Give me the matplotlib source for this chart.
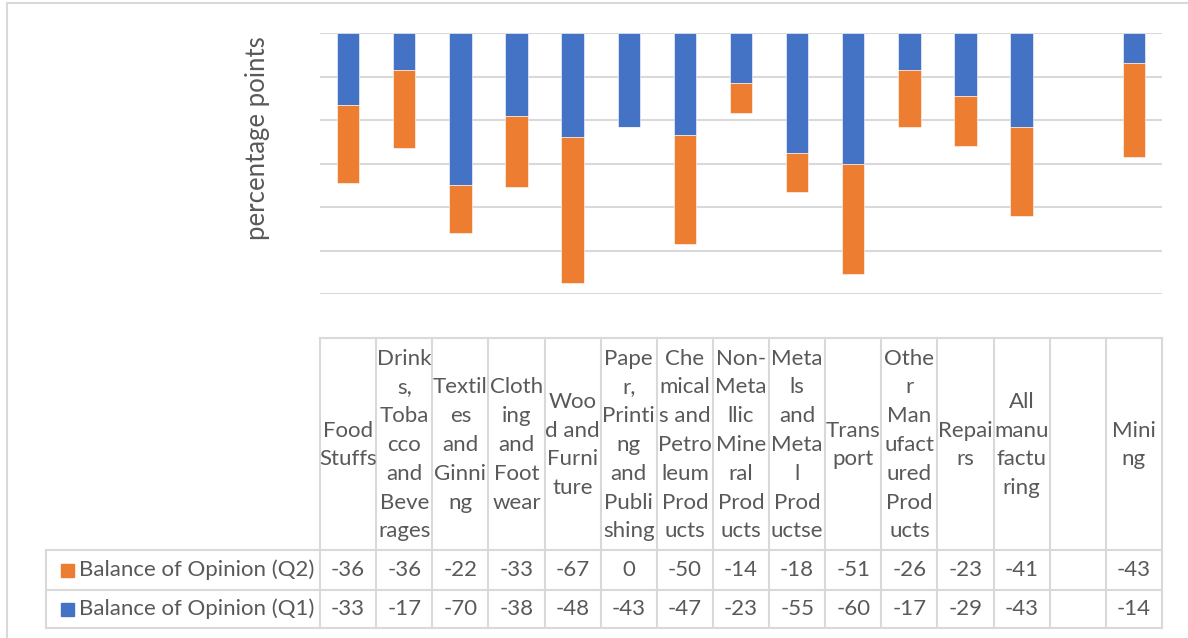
import matplotlib
matplotlib.use("Agg")
import matplotlib.pyplot as plt
import numpy as np

# Balance of opinion by sector (percentage points); blank column kept as a spacer
sectors = [
    "Food\nStuffs",
    "Drink\ns,\nToba\ncco\nand\nBeve\nrages",
    "Textil\nes\nand\nGinni\nng",
    "Cloth\ning\nand\nFoot\nwear",
    "Woo\nd and\nFurni\nture",
    "Pape\nr,\nPrinti\nng\nand\nPubli\nshing",
    "Che\nmical\ns and\nPetro\nleum\nProd\nucts",
    "Non-\nMeta\nllic\nMine\nral\nProd\nucts",
    "Meta\nls\nand\nMeta\nl\nProd\nuctse",
    "Trans\nport",
    "Othe\nr\nMan\nufact\nured\nProd\nucts",
    "Repai\nrs",
    "All\nmanu\nfactu\nring",
    "",
    "Mini\nng",
]
q1 = [-33, -17, -70, -38, -48, -43, -47, -23, -55, -60, -17, -29, -43, np.nan, -14]
q2 = [-36, -36, -22, -33, -67, 0, -50, -14, -18, -51, -26, -23, -41, np.nan, -43]
series_names = ["Balance of Opinion (Q2)", "Balance of Opinion (Q1)"]

BLUE = "#4472C4"
ORANGE = "#ED7D31"
GRID = "#D9D9D9"
TEXT = "#595959"
FONT = "Lato"
FS = 16

W, H = 1188, 638
fig = plt.figure(figsize=(W / 100, H / 100), dpi=100)

# plot area in pixel terms
left, right, top, bottom = 320, 1162, 33, 294
ax = fig.add_axes([left / W, 1 - bottom / H, (right - left) / W, (bottom - top) / H])

n = len(sectors)
x = np.arange(n)
q1_arr = np.array(q1, dtype=float)
q2_arr = np.array(q2, dtype=float)
ax.bar(x, q1_arr, width=0.4, color=BLUE, edgecolor="white", linewidth=0.4, zorder=3)
ax.bar(x, q2_arr, width=0.4, bottom=q1_arr, color=ORANGE, edgecolor="white",
       linewidth=0.4, zorder=3)

ax.set_xlim(-0.5, n - 0.5)
ax.set_ylim(-120, 0)
ax.set_yticks(np.arange(-120, 1, 20))
ax.yaxis.grid(True, color=GRID, linewidth=1.5, zorder=0)
ax.tick_params(left=False, bottom=False, labelleft=False, labelbottom=False)
for s in ax.spines.values():
    s.set_visible(False)

fig.text(257 / W, 1 - 138 / H, "percentage points", rotation=90, ha="center",
         va="center", fontsize=18.5, color=TEXT, family=FONT)

# overlay in pixel coordinates for the chart frame and data table
ov = fig.add_axes([0, 0, 1, 1], zorder=-1)
ov.set_xlim(0, W)
ov.set_ylim(H, 0)
ov.axis("off")

# chart frame (left and top edges)
ov.plot([7, 7], [3, H], color=GRID, lw=1.5)
ov.plot([7, W], [3, 3], color=GRID, lw=1.5)

tab = fig.add_axes([0, 0, 1, 1])
tab.set_xlim(0, W)
tab.set_ylim(H, 0)
tab.axis("off")
tab.patch.set_alpha(0)

head_top, head_bot, row_mid, tab_bot = 338, 550, 590, 628
legend_left = 46
col_w = (right - left) / n
edges = left + col_w * np.arange(n + 1)

tab.plot([left, right], [head_top, head_top], color=GRID, lw=1.5)
for yy in (head_bot, row_mid, tab_bot):
    tab.plot([legend_left, right], [yy, yy], color=GRID, lw=1.5)
for xe in edges:
    tab.plot([xe, xe], [head_top, tab_bot], color=GRID, lw=1.5)
tab.plot([legend_left, legend_left], [head_bot, tab_bot], color=GRID, lw=1.5)

for i, name in enumerate(sectors):
    cx = (edges[i] + edges[i + 1]) / 2
    tab.text(cx, (head_top + head_bot) / 2 + 1, name, ha="center", va="center",
             fontsize=FS, color=TEXT, family=FONT, linespacing=1.55)

rows = [(q2_arr, ORANGE, series_names[0]), (q1_arr, BLUE, series_names[1])]
row_bounds = [(head_bot, row_mid), (row_mid, tab_bot)]
for (vals, col, label), (y0, y1) in zip(rows, row_bounds):
    cy = (y0 + y1) / 2
    tab.add_patch(plt.Rectangle((61, cy - 6.5), 13, 13, color=col))
    tab.text(79, cy, label, ha="left", va="center", fontsize=FS, color=TEXT,
             family=FONT)
    for i, v in enumerate(vals):
        if np.isnan(v):
            continue
        cx = (edges[i] + edges[i + 1]) / 2
        tab.text(cx, cy, f"{v:.0f}", ha="center", va="center", fontsize=FS,
                 color=TEXT, family=FONT)

fig.savefig("out.png", dpi=100)
